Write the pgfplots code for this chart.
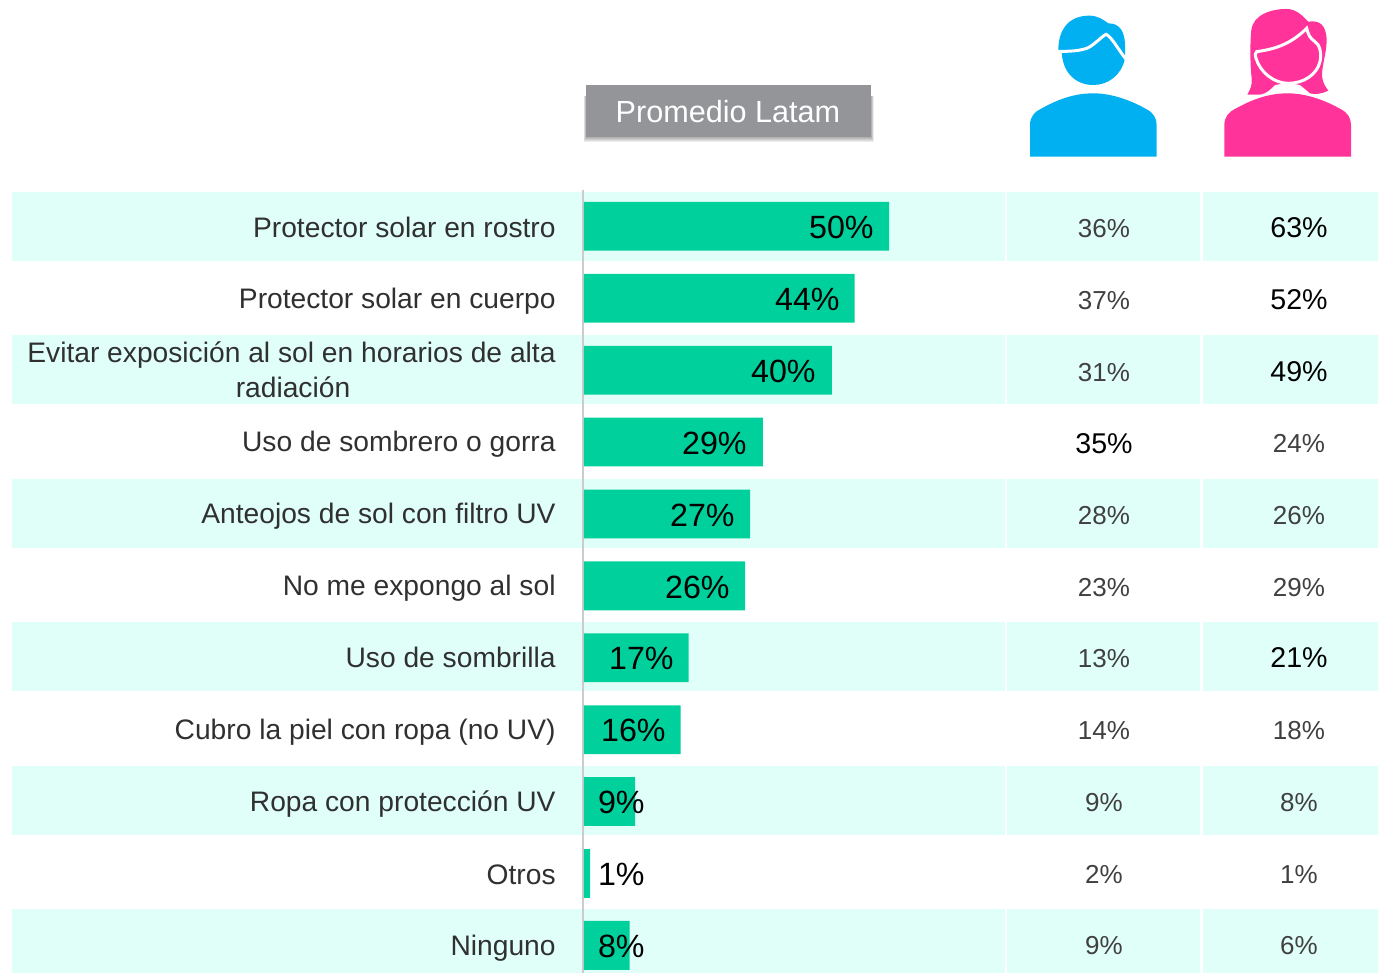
\documentclass[border=0pt]{standalone}
\usepackage{pgfplots}
\pgfplotsset{compat=1.18}
\usepackage{fontspec}
\setmainfont{Liberation Sans}
\definecolor{band}{HTML}{E0FFF8}
\definecolor{barg}{HTML}{00D19C}
\definecolor{boxg}{HTML}{939598}
\definecolor{blueic}{HTML}{00B0F0}
\definecolor{pinkic}{HTML}{FF3399}
\definecolor{txt}{HTML}{303030}
\definecolor{txtv}{HTML}{404040}
\newcommand{\lab}[2]{\node[anchor=base east,inner sep=0pt,text=txt] at (556,#1) {\fontsize{14.1pt}{16pt}\selectfont #2};}
\newcommand{\barv}[3]{\node[anchor=base east,inner sep=0pt,text=black] at (#1,#2) {\fontsize{16.1pt}{18pt}\selectfont #3};}
\newcommand{\col}[3]{\node[anchor=base,inner sep=0pt,text=txtv] at (#1,#2) {\fontsize{13pt}{15pt}\selectfont #3};}
\newcommand{\colb}[3]{\node[anchor=base,inner sep=0pt,text=black] at (#1,#2) {\fontsize{14.3pt}{16pt}\selectfont #3};}
\begin{document}
\begin{tikzpicture}
\useasboundingbox (0,0) rectangle (689pt,486.5pt);
\begin{scope}[shift={(0,486.5pt)},x=0.5pt,y=-0.5pt]
  \foreach \a/\b in {192/261,335/404,479/548,622/691,766/835,909/973}{
    \fill[band] (12,\a) rectangle (1005,\b);
    \fill[band] (1007,\a) rectangle (1200,\b);
    \fill[band] (1203,\a) rectangle (1378,\b);
  }
  \draw[line width=1pt,color=black!20] (583,190) -- (583,973);
\end{scope}
\begin{axis}[
  at={(0,0)},anchor=south west,
  width=689pt,height=486.5pt,scale only axis,
  hide axis,clip=false,
  xmin=-94.96,xmax=129.11,
  ymin=-3.148,ymax=10.384,y dir=reverse,
  xbar,bar width=24.4pt,bar shift=0pt]
\addplot[draw=none,fill=barg] coordinates {
 (49.6,0) (44.0,1) (40.3,2) (29.1,3) (27.0,4) (26.2,5)
 (17.0,6) (15.7,7) (8.3,8) (1.0,9) (7.4,10)};
\end{axis}
\begin{scope}[shift={(0,486.5pt)},x=0.5pt,y=-0.5pt]
  % left labels
  \lab{238}{Protector solar en rostro}
  \lab{309}{Protector solar en cuerpo}
  \lab{363}{Evitar exposición al sol en horarios de alta}
  \node[anchor=base,inner sep=0pt,text=txt] at (293,398) {\fontsize{14.1pt}{16pt}\selectfont radiación};
  \lab{452}{Uso de sombrero o gorra}
  \lab{524}{Anteojos de sol con filtro UV}
  \lab{596}{No me expongo al sol}
  \lab{668}{Uso de sombrilla}
  \lab{740}{Cubro la piel con ropa (no UV)}
  \lab{812}{Ropa con protección UV}
  \lab{885}{Otros}
  \lab{956}{Ninguno}
  % bar values
  \barv{874}{239}{50\%}
  \barv{840}{311}{44\%}
  \barv{816}{383}{40\%}
  \barv{747}{455}{29\%}
  \barv{735}{527}{27\%}
  \barv{730}{599}{26\%}
  \barv{674}{670}{17\%}
  \barv{666}{742}{16\%}
  \barv{645}{814}{9\%}
  \barv{645}{886}{1\%}
  \barv{645}{958}{8\%}
  % male column
  \col{1104}{238}{36\%}
  \col{1104}{310}{37\%}
  \col{1104}{382}{31\%}
  \colb{1104}{454}{35\%}
  \col{1104}{525}{28\%}
  \col{1104}{597}{23\%}
  \col{1104}{668}{13\%}
  \col{1104}{740}{14\%}
  \col{1104}{812}{9\%}
  \col{1104}{884}{2\%}
  \col{1104}{955}{9\%}
  % female column
  \colb{1299}{238}{63\%}
  \colb{1299}{310}{52\%}
  \colb{1299}{382}{49\%}
  \col{1299}{453}{24\%}
  \col{1299}{525}{26\%}
  \col{1299}{597}{29\%}
  \colb{1299}{668}{21\%}
  \col{1299}{740}{18\%}
  \col{1299}{812}{8\%}
  \col{1299}{884}{1\%}
  \col{1299}{955}{6\%}
  % header box with soft shadow
  \foreach \e in {1,2,3,4,5}{
    \fill[black,opacity=0.07] (586-0.5*\e,96) rectangle (871+0.5*\e,137+\e);
  }
  \fill[boxg] (586,85) rectangle (871,137);
  \node[anchor=base,inner sep=0pt,text=white] at (728,123) {\fontsize{15.3pt}{17pt}\selectfont Promedio Latam};
\end{scope}
% icons, in coordinates of a 3x view
\begin{scope}[shift={(505pt,486.5pt)},x=0.16667pt,y=-0.16667pt]
  % man
  \fill[blueic] (60,470) -- (60,375) .. controls (60,350) and (75,335) .. (90,328) .. controls (140,300) and (190,280) .. (250,280) .. controls (310,280) and (370,305) .. (410,328) .. controls (430,338) and (440,355) .. (440,375) -- (440,470) -- cycle;
  \fill[blueic] (145,150) .. controls (145,90) and (175,47) .. (238,47) .. controls (265,47) and (280,60) .. (295,70) .. controls (330,70) and (347,95) .. (345,150) -- (345,175) .. controls (335,225) and (295,255) .. (250,255) .. controls (195,255) and (155,215) .. (155,150) -- cycle;
  \draw[white,line width=1.5pt] (140,154) .. controls (180,155) and (215,152) .. (235,143) .. controls (255,132) and (275,110) .. (288,103) .. controls (305,110) and (325,150) .. (350,180);
  % woman
  \fill[pinkic] (643,470) -- (643,375) .. controls (643,350) and (658,335) .. (673,328) .. controls (723,300) and (773,280) .. (833,280) .. controls (893,280) and (953,305) .. (993,328) .. controls (1013,338) and (1023,355) .. (1023,375) -- (1023,470) -- cycle;
  \fill[pinkic] (712,284) .. controls (722,265) and (727,255) .. (725,235) .. controls (720,190) and (720,130) .. (724,90) .. controls (730,45) and (780,27) .. (830,27) .. controls (860,27) and (880,50) .. (895,65) .. controls (930,60) and (948,75) .. (950,120) .. controls (950,165) and (930,210) .. (938,240) .. controls (942,255) and (950,265) .. (955,272) .. controls (935,282) and (915,284) .. (900,280) .. controls (890,272) and (880,262) .. (870,255) -- (835,248) -- (795,255) .. controls (780,270) and (770,280) .. (750,284) -- cycle;
  \filldraw[fill=pinkic,draw=white,line width=1.5pt] (740,155) .. controls (790,148) and (840,135) .. (890,85) .. controls (895,105) and (900,115) .. (915,125) .. controls (930,135) and (935,160) .. (930,185) .. controls (920,225) and (880,250) .. (835,250) .. controls (790,250) and (750,215) .. (738,175) .. controls (735,165) and (735,158) .. (740,155) -- cycle;
\end{scope}
\end{tikzpicture}
\end{document}
